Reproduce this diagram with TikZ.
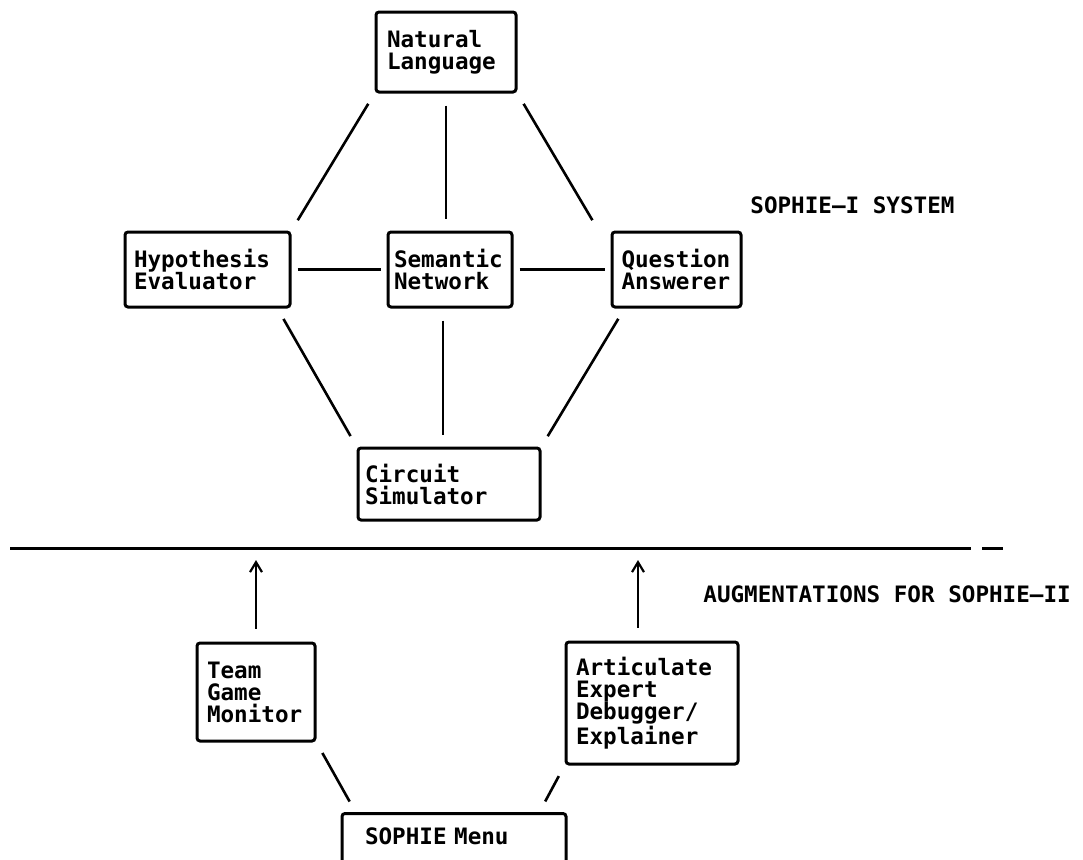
\documentclass[tikz,border=0pt]{standalone}
\usepackage{fontspec}
\newfontfamily\typewr{DejaVu Sans Mono}
\usetikzlibrary{arrows.meta}
\begin{document}
\begin{tikzpicture}[x=0.5pt,y=-0.5pt,
  tfont/.style={font=\typewr\bfseries\fontsize{11.3}{11}\selectfont},
  box/.style={draw, line width=1.5pt, rounded corners=1.5pt, align=left, tfont, inner ysep=0pt},
  link/.style={line width=1.3pt, shorten <=6pt, shorten >=6pt},
  hlink/.style={line width=1.3pt, shorten <=3pt, shorten >=3pt},
  uparrow/.style={line width=1.1pt, -{Straight Barb[length=5pt,width=6pt]}, shorten <=6.5pt, shorten >=6pt},
  caption/.style={tfont, anchor=base west, inner sep=0pt}]
\useasboundingbox (0,0) rectangle (1083,859);
\clip (0,0) rectangle (1083,859);

% SOPHIE-I system
\node[box, text width=59pt, inner xsep=5.5pt, minimum height=40pt] (NL) at (446,52) {Natural\\Language};
\node[box, text width=73.5pt, inner xsep=4.5pt, minimum height=37.5pt] (HE) at (207.5,269.5) {Hypothesis\\Evaluator};
\node[box, text width=56pt, inner xsep=3pt, minimum height=37.5pt] (SN) at (450,269.5) {Semantic\\Network};
\node[box, text width=55pt, inner xsep=4.75pt, minimum height=37.5pt] (QA) at (676.5,269.5) {Question\\Answerer};
\node[box, text width=84pt, inner xsep=3.5pt, minimum height=36pt] (CS) at (449,484) {Circuit\\Simulator};

\draw[link] (NL.south west) -- (HE.north east);
\draw[link] (NL.south) -- (NL.south |- SN.north);
\draw[link] (NL.south east) -- ([xshift=-6pt]QA.north west);
\draw[hlink] (HE) -- (SN);
\draw[hlink] (SN) -- (QA);
\draw[link] ([xshift=-7pt]HE.south east) -- (CS.north west);
\draw[link] ([xshift=-3.5pt]SN.south) -- ([xshift=-3.5pt]SN.south |- CS.north);
\draw[link] ([xshift=7pt]QA.south west) -- (CS.north east);

\node[caption] (sys1) at (750,213) {SOPHIE–I SYSTEM};

% separator
\coordinate (sepL) at (10,548);
\coordinate (sepR) at (971,548);
\coordinate (dashL) at (982,548);
\coordinate (dashR) at (1003,548);
\draw[line width=1.5pt] (sepL) -- (sepR);
\draw[line width=1.5pt] (dashL) -- (dashR);

% augmentations
\node[caption] (sys2) at (703,602) {AUGMENTATIONS FOR SOPHIE–II};
\node[box, text width=49pt, inner xsep=5pt, minimum height=49pt] (TGM) at (256,692) {Team\\Game\\Monitor};
\node[box, text width=76pt, inner xsep=5pt, minimum height=61pt] (AED) at (652,703) {Articulate\\Expert\\Debugger/\\Explainer};
\node[box, anchor=north, text width=89pt, inner xsep=11.5pt, inner ysep=7pt, text height=8.5pt, text depth=20pt] (menu) at (454,812) {SOPHIE Menu};

\draw[uparrow] (TGM.north) -- (TGM.north |- sepL);
\draw[uparrow] ([xshift=-7pt]AED.north) -- ([xshift=-7pt]AED.north |- sepL);
\draw[link] (TGM.south east) -- ([xshift=7.5pt]menu.north west);
\draw[link] (AED.south west) -- ([xshift=-14pt]menu.north east);
\end{tikzpicture}
\end{document}
